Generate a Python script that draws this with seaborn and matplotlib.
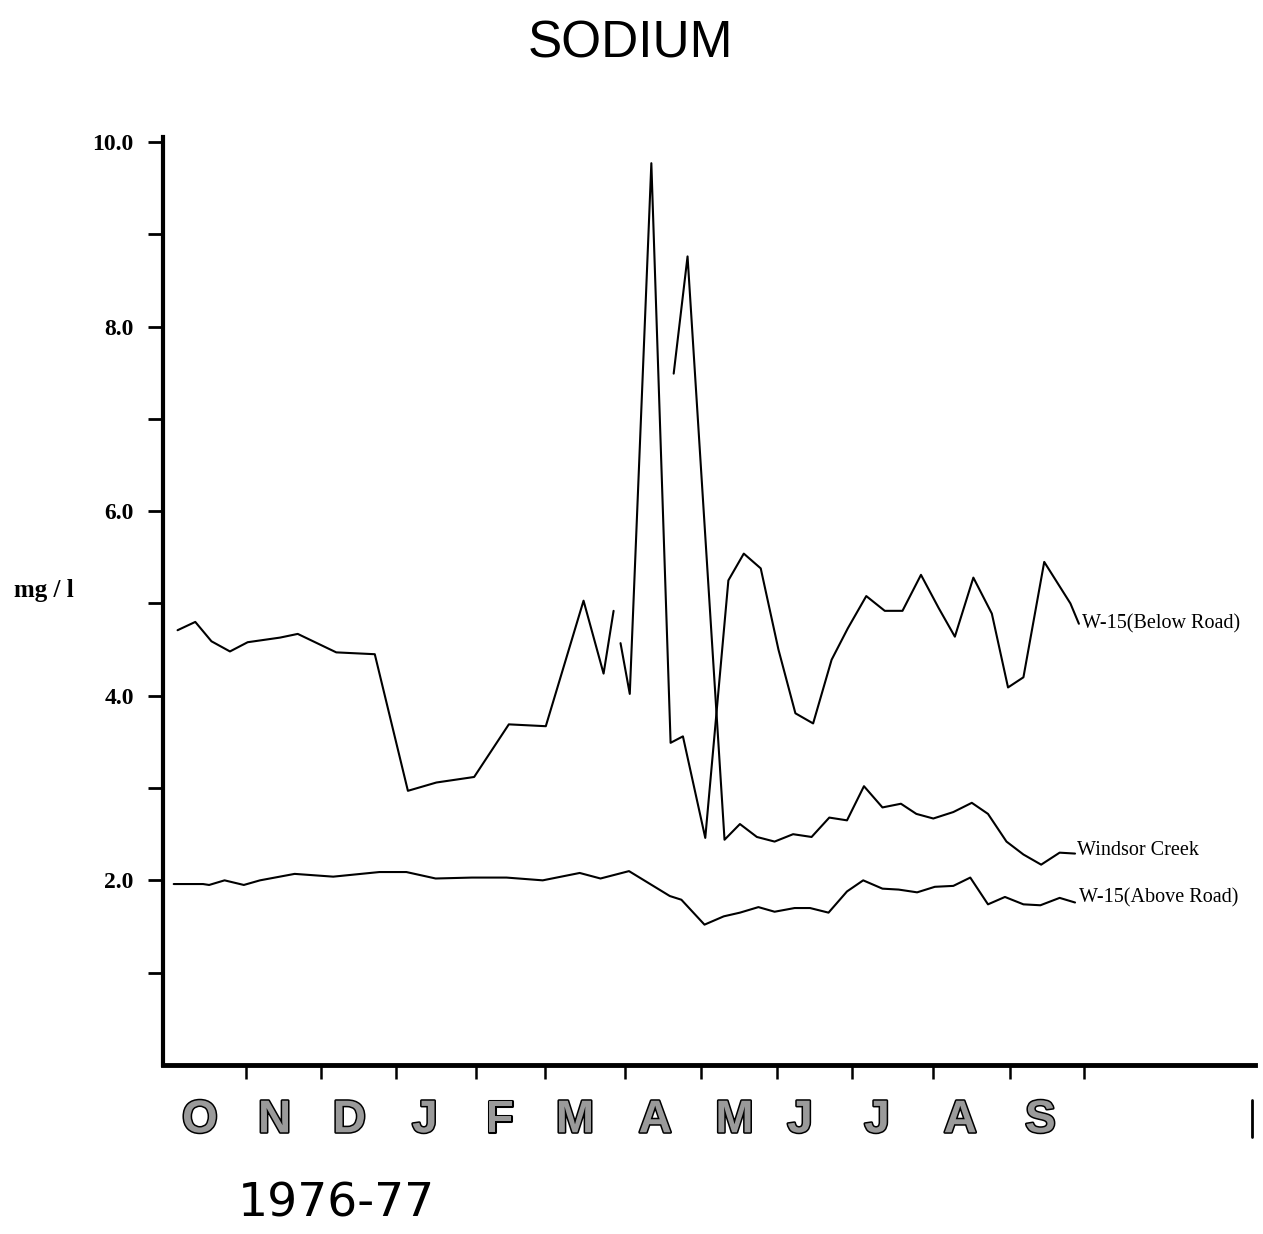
import numpy as np
import pandas as pd
import matplotlib
matplotlib.use("Agg")
import matplotlib.pyplot as plt
import matplotlib.patheffects as pe
import seaborn as sns

# ---- data (x in months since 1 Oct 1976, y in mg/l) ----
below_x_a = [0.22, 0.45, 0.66, 0.90, 1.13, 1.55, 1.78, 2.28, 2.78, 3.21, 3.58, 4.07, 4.52, 5.00, 5.49, 5.75, 5.88]
below_y_a = [4.71, 4.80, 4.59, 4.48, 4.58, 4.63, 4.67, 4.47, 4.45, 2.97, 3.06, 3.12, 3.69, 3.67, 5.03, 4.24, 4.92]
below_x_b = [5.97, 6.09, 6.37, 6.62, 6.78, 7.07, 7.37, 7.57, 7.79, 8.02, 8.24, 8.47, 8.71, 8.92, 9.16, 9.40, 9.63,
             9.87, 10.10, 10.31, 10.55, 10.79, 11.00, 11.20, 11.47, 11.81, 11.92]
below_y_b = [4.57, 4.02, 9.77, 3.49, 3.56, 2.46, 5.25, 5.54, 5.38, 4.50, 3.81, 3.70, 4.39, 4.73, 5.08, 4.92, 4.92,
             5.31, 4.95, 4.64, 5.28, 4.89, 4.09, 4.20, 5.45, 5.00, 4.78]

windsor_x = [6.66, 6.84, 7.32, 7.52, 7.74, 7.97, 8.21, 8.45, 8.68, 8.91, 9.13, 9.37, 9.61, 9.81, 10.03, 10.29,
             10.53, 10.74, 10.98, 11.20, 11.43, 11.67, 11.87]
windsor_y = [7.49, 8.76, 2.44, 2.61, 2.47, 2.42, 2.50, 2.47, 2.68, 2.65, 3.02, 2.79, 2.83, 2.72, 2.67, 2.74,
             2.84, 2.72, 2.42, 2.28, 2.17, 2.30, 2.29]

above_x = [0.17, 0.55, 0.63, 0.83, 1.08, 1.29, 1.74, 2.24, 2.84, 3.19, 3.57, 4.04, 4.49, 4.96, 5.44, 5.71, 6.08,
           6.61, 6.76, 7.06, 7.31, 7.52, 7.76, 7.97, 8.23, 8.43, 8.67, 8.91, 9.12, 9.37, 9.58, 9.82, 10.05,
           10.29, 10.51, 10.74, 10.96, 11.20, 11.42, 11.67, 11.87]
above_y = [1.96, 1.96, 1.95, 2.00, 1.95, 2.00, 2.07, 2.04, 2.09, 2.09, 2.02, 2.03, 2.03, 2.00, 2.08, 2.02, 2.10,
           1.83, 1.79, 1.52, 1.61, 1.65, 1.71, 1.66, 1.70, 1.70, 1.65, 1.88, 2.00, 1.91, 1.90, 1.87, 1.93,
           1.94, 2.03, 1.74, 1.82, 1.74, 1.73, 1.81, 1.76]

month_labels = ["O", "N", "D", "J", "F", "M", "A", "M", "J", "J", "A", "S"]
month_label_pos = [0.51, 1.48, 2.45, 3.43, 4.40, 5.38, 6.42, 7.45, 8.30, 9.30, 10.38, 11.42]
month_tick_pos = [1.11, 2.08, 3.06, 4.09, 4.99, 6.03, 7.01, 8.00, 8.97, 10.03, 11.03, 11.99]
y_major = [2, 4, 6, 8, 10]
series_labels = ["W-15(Below Road)", "Windsor Creek", "W-15(Above Road)"]

frames = [
    pd.DataFrame({"x": below_x_a, "y": below_y_a, "series": "below", "seg": "below_a"}),
    pd.DataFrame({"x": below_x_b, "y": below_y_b, "series": "below", "seg": "below_b"}),
    pd.DataFrame({"x": windsor_x, "y": windsor_y, "series": "windsor", "seg": "windsor"}),
    pd.DataFrame({"x": above_x, "y": above_y, "series": "above", "seg": "above"}),
]
df = pd.concat(frames, ignore_index=True)

sns.set_style("white")
plt.rcParams["font.family"] = ["Liberation Serif", "DejaVu Serif"]
plt.rcParams["text.color"] = "black"
plt.rcParams["axes.labelcolor"] = "black"
plt.rcParams["xtick.color"] = "black"
plt.rcParams["ytick.color"] = "black"

fig = plt.figure(figsize=(12.63, 12.34), dpi=100)
ax = fig.add_axes([0.1290, 0.137, 0.8643, 0.7517])

sns.lineplot(data=df, x="x", y="y", hue="series", units="seg", estimator=None,
             palette={"below": "black", "windsor": "black", "above": "black"},
             linewidth=1.5, legend=False, ax=ax, sort=False)

ax.set_xlim(0.03, 14.2)
ax.set_ylim(0, 10.05)

# spines
for s in ["top", "right"]:
    ax.spines[s].set_visible(False)
ax.spines["left"].set_linewidth(3)
ax.spines["bottom"].set_linewidth(3.5)
ax.spines["left"].set_color("black")
ax.spines["bottom"].set_color("black")

# y ticks
ax.set_yticks(range(1, 11))
ax.set_yticklabels([f"{v:.1f}" if v in y_major else "" for v in range(1, 11)],
                   fontsize=17, fontweight="bold", color="black")
ax.tick_params(axis="y", direction="out", length=11, width=2, pad=10, left=True, colors="black")

# x ticks (month boundaries) and month labels
ax.set_xticks(month_tick_pos)
ax.set_xticklabels([])
ax.tick_params(axis="x", which="major", direction="out", length=10, width=1.8, bottom=True, colors="black")
ax.set_xticks(month_label_pos, minor=True)
ax.set_xticklabels(month_labels, minor=True, fontsize=33, fontweight="bold",
                   family=["Liberation Sans", "DejaVu Sans"], color="#9a9a9a")
ax.tick_params(axis="x", which="minor", length=0, pad=24)
for t in ax.get_xticklabels(minor=True):
    t.set_path_effects([pe.withStroke(linewidth=2.2, foreground="black")])

ax.set_xlabel("")
ax.set_ylabel("mg / l", rotation=0, fontsize=18, fontweight="bold", ha="left", va="center", color="black")
ax.yaxis.set_label_coords(-0.136, 0.512)

# end mark at the right of the x axis
ax.axvline(14.17, ymin=-0.078, ymax=-0.038, clip_on=False, color="black", linewidth=2)

# series labels at line ends
ends = [(below_x_b[-1], below_y_b[-1]), (windsor_x[-1], windsor_y[-1]), (above_x[-1], above_y[-1])]
offs = [(0.04, 0.0), (0.02, 0.03), (0.05, 0.05)]
for (ex, ey), (dx, dy), lab in zip(ends, offs, series_labels):
    ax.text(ex + dx, ey + dy, lab, fontsize=14.5, ha="left", va="center", color="black")

fig.text(0.499, 0.964, "SODIUM", fontsize=37, ha="center", va="center", color="black",
         family=["Liberation Sans", "DejaVu Sans"])
fig.text(0.266, 0.014, "1976-77", fontsize=34, ha="center", va="baseline", color="black",
         family=["DejaVu Sans"])

fig.savefig("out.png", dpi=100, facecolor="white")
